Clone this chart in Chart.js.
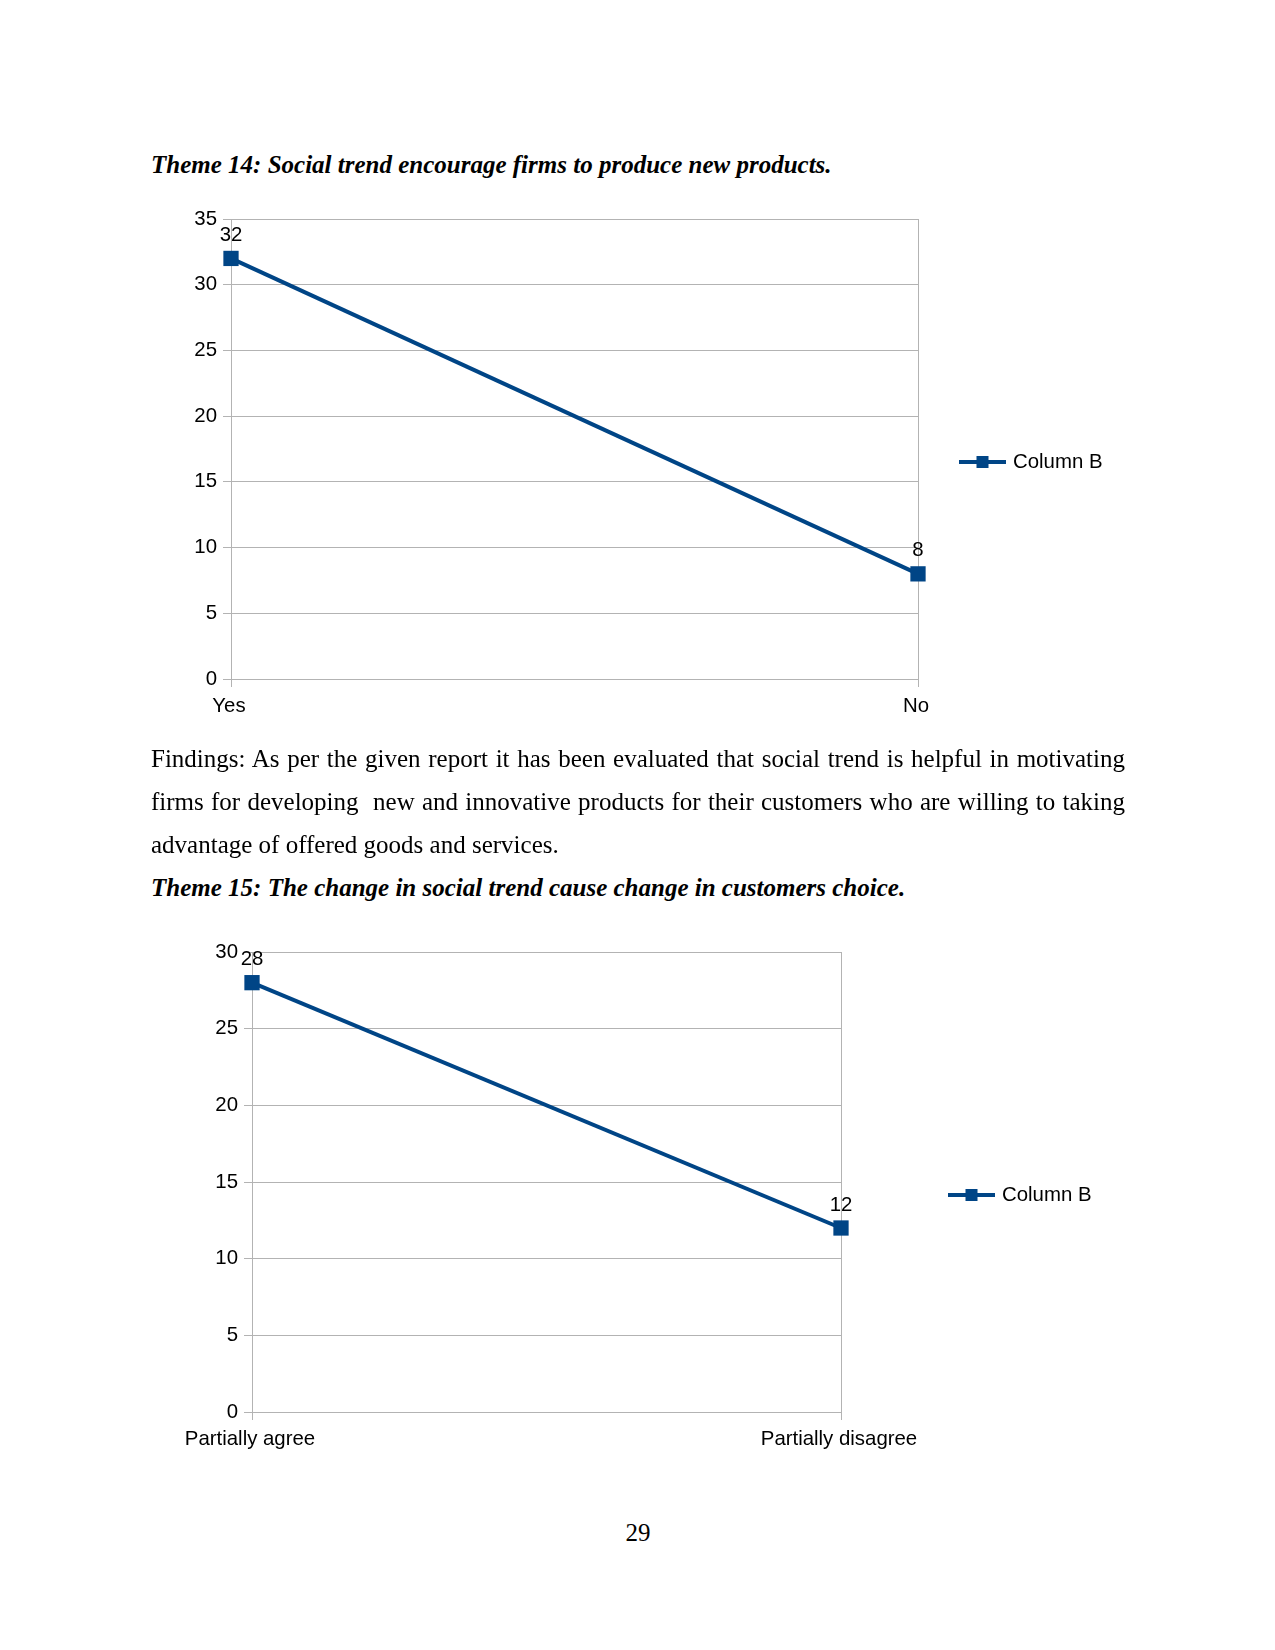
<!DOCTYPE html>
<html lang="en">
<head>
    <meta charset="UTF-8">
    <title>Theme 14 / Theme 15</title>
    <script src="https://cdn.jsdelivr.net/npm/chart.js"></script>
    <style>
        body {
            margin: 0;
            padding: 0;
            width: 1275px;
            height: 1650px;
            position: relative;
            background: #fff;
            font-family: "Liberation Serif", serif;
            color: #000;
        }
        .title {
            position: absolute;
            left: 151px;
            font-size: 25px;
            line-height: 30px;
            font-weight: bold;
            font-style: italic;
            white-space: nowrap;
        }
        .para {
            position: absolute;
            left: 151px;
            width: 974px;
            font-size: 25px;
            line-height: 43px;
            white-space: nowrap;
        }
        .just {
            text-align: justify;
            text-align-last: justify;
            white-space: normal;
        }
        .chart {
            position: absolute;
            left: 0;
            width: 1275px;
        }
        #pageNo {
            position: absolute;
            left: 588px;
            width: 100px;
            top: 1518px;
            text-align: center;
            font-size: 25px;
            line-height: 30px;
        }
    </style>
</head>
<body>
    <div class="title" style="top:150px">Theme 14: Social trend encourage firms to produce new products.</div>
    <div class="chart" style="top:190px;height:550px"><canvas id="chart14" width="1275" height="550"></canvas></div>

    <div class="para just" style="top:737px">Findings: As per the given report it has been evaluated that social trend is helpful in motivating</div>
    <div class="para just" style="top:780px">firms for developing &nbsp;new and innovative products for their customers who are willing to taking</div>
    <div class="para" style="top:823px">advantage of offered goods and services.</div>

    <div class="title" style="top:873px">Theme 15: The change in social trend cause change in customers choice.</div>
    <div class="chart" style="top:930px;height:540px"><canvas id="chart15" width="1275" height="540"></canvas></div>

    <div id="pageNo">29</div>

    <script>
        // Datos de los graficos
        const seriesName = 'Column B';
        const labels14 = ['Yes', 'No'];
        const values14 = [32, 8];
        const labels15 = ['Partially agree', 'Partially disagree'];
        const values15 = [28, 12];

        const blue = '#004586';
        const gridGray = '#b3b3b3';
        const chartFont = { family: "'Liberation Sans', Arial, sans-serif", size: 20.4 };

        // Etiquetas de valor encima de cada punto
        const valueLabels = {
            id: 'valueLabels',
            afterDatasetsDraw(chart) {
                const ctx = chart.ctx;
                const meta = chart.getDatasetMeta(0);
                ctx.save();
                ctx.font = chartFont.size + 'px ' + chartFont.family;
                ctx.fillStyle = '#000';
                ctx.textAlign = 'center';
                ctx.textBaseline = 'middle';
                meta.data.forEach((pt, i) => {
                    ctx.fillText(String(chart.data.datasets[0].data[i]), pt.x, pt.y - 23);
                });
                ctx.restore();
            }
        };

        // Leyenda a la derecha: linea + cuadrado + texto
        const sideLegend = {
            id: 'sideLegend',
            afterDraw(chart, args, opts) {
                const ctx = chart.ctx;
                const area = chart.chartArea;
                const x = opts.x;
                const y = (area.top + area.bottom) / 2 + 13;
                ctx.save();
                ctx.strokeStyle = blue;
                ctx.lineWidth = 4;
                ctx.beginPath();
                ctx.moveTo(x, y);
                ctx.lineTo(x + 47, y);
                ctx.stroke();
                ctx.fillStyle = blue;
                ctx.fillRect(x + 17.5, y - 6, 12, 12);
                ctx.fillStyle = '#000';
                ctx.font = chartFont.size + 'px ' + chartFont.family;
                ctx.textAlign = 'left';
                ctx.textBaseline = 'middle';
                ctx.fillText(chart.data.datasets[0].label, x + 54, y);
                ctx.restore();
            }
        };

        function makeChart(id, labels, values, yMax, padding, legendX) {
            return new Chart(document.getElementById(id), {
                type: 'line',
                data: {
                    labels: labels,
                    datasets: [{
                        label: seriesName,
                        data: values,
                        borderColor: blue,
                        borderWidth: 4,
                        tension: 0,
                        pointStyle: 'rect',
                        pointRadius: 10.8,
                        pointHoverRadius: 10.8,
                        pointBackgroundColor: blue,
                        pointBorderWidth: 0,
                        clip: false
                    }]
                },
                options: {
                    responsive: false,
                    animation: false,
                    devicePixelRatio: 1,
                    layout: { padding: padding },
                    plugins: {
                        legend: { display: false },
                        tooltip: { enabled: false },
                        sideLegend: { x: legendX }
                    },
                    scales: {
                        x: {
                            offset: false,
                            grid: { color: gridGray, tickLength: 8, lineWidth: 1 },
                            border: { color: gridGray },
                            ticks: { font: chartFont, color: '#000', padding: 7, labelOffset: -2, maxRotation: 0, autoSkip: false },
                            afterFit(s) { s.height = 40; }
                        },
                        y: {
                            min: 0,
                            max: yMax,
                            grid: { color: gridGray, tickLength: 8, lineWidth: 1 },
                            border: { color: gridGray },
                            ticks: { stepSize: 5, font: chartFont, color: '#000', padding: 6 },
                            afterFit(s) { s.width = 50; }
                        }
                    }
                },
                plugins: [valueLabels, sideLegend]
            });
        }

        makeChart('chart14', labels14, values14, 35,
            { left: 181, right: 357, top: 29, bottom: 21 }, 959);
        makeChart('chart15', labels15, values15, 30,
            { left: 202, right: 434, top: 22, bottom: 18 }, 948);
    </script>
</body>
</html>
